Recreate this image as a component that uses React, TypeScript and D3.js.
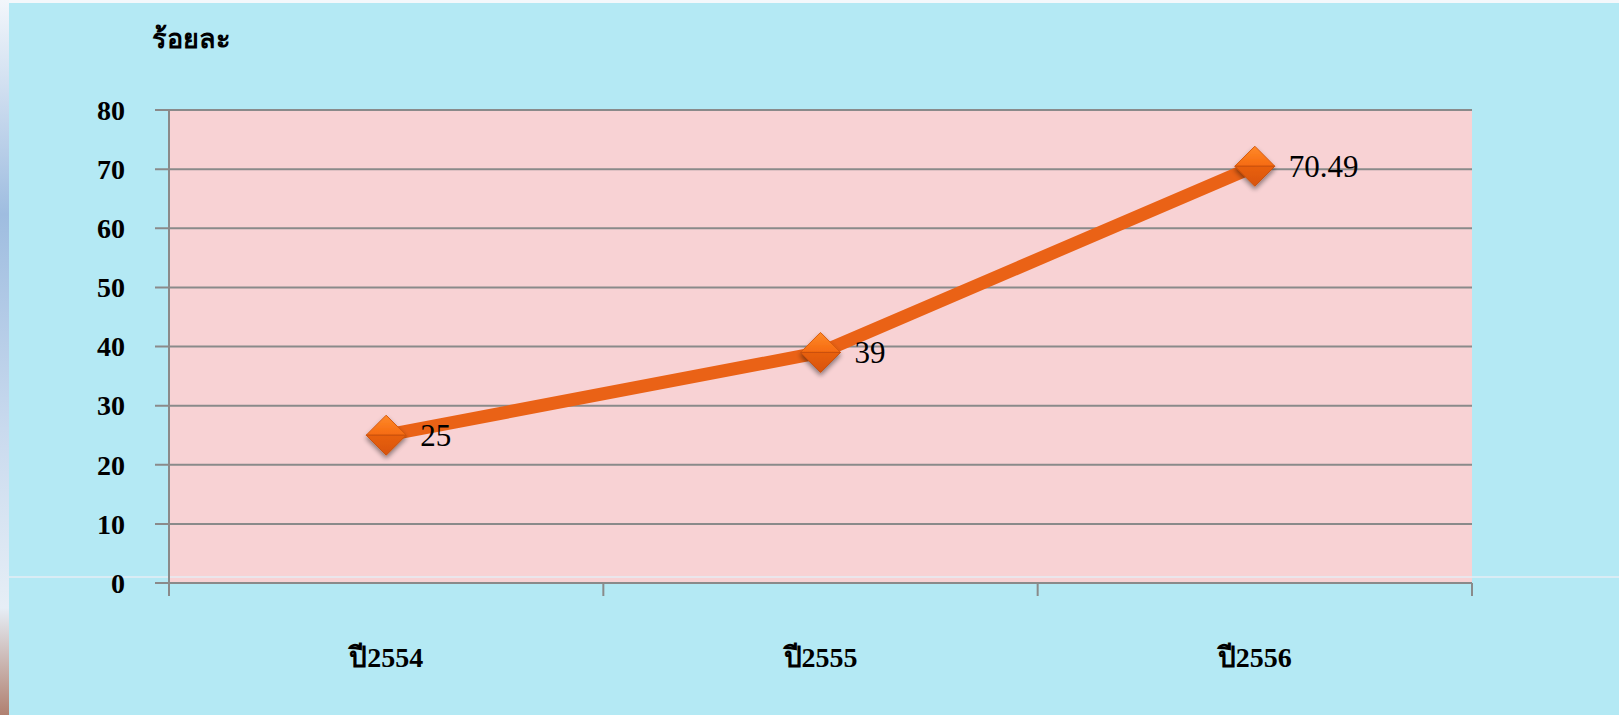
import React from "react";
import * as d3 from "d3";

const categories = ["ปี2554", "ปี2555", "ปี2556"];
const values = [25, 39, 70.49];
const valueLabels = ["25", "39", "70.49"];
const yTicks = [0, 10, 20, 30, 40, 50, 60, 70, 80];
const yTitle = "ร้อยละ";

const W = 1619;
const H = 715;
const plot = { left: 169, right: 1472, top: 110, bottom: 583 };

export default function App() {
  const x = d3
    .scaleBand<string>()
    .domain(categories)
    .range([plot.left, plot.right])
    .paddingInner(0)
    .paddingOuter(0);
  const y = d3.scaleLinear().domain([0, 80]).range([plot.bottom, plot.top]);
  const cx = (c: string) => (x(c) ?? 0) + x.bandwidth() / 2;
  const line = d3
    .line<number>()
    .x((_, i) => cx(categories[i]))
    .y((d) => y(d));
  const boundaries = [...categories.map((c) => x(c) ?? 0), plot.right];
  const font = "'Liberation Serif', 'Times New Roman', serif";
  const r = 20;

  return (
    <svg
      width={W}
      height={H}
      style={{ position: "absolute", left: 0, top: 0, display: "block" }}
      fontFamily={font}
    >
      <defs>
        <linearGradient id="leftStrip" x1="0" y1="0" x2="0" y2="1">
          <stop offset="0" stopColor="#f2f6fb" />
          <stop offset="0.3" stopColor="#9fbde0" />
          <stop offset="0.6" stopColor="#c9daee" />
          <stop offset="0.85" stopColor="#e6eef6" />
          <stop offset="1" stopColor="#b08070" />
        </linearGradient>
        <linearGradient id="diamondTop" x1="0" y1="0" x2="0" y2="1">
          <stop offset="0" stopColor="#ff8a2a" />
          <stop offset="1" stopColor="#f56a10" />
        </linearGradient>
        <linearGradient id="diamondBot" x1="0" y1="0" x2="0" y2="1">
          <stop offset="0" stopColor="#e8600c" />
          <stop offset="1" stopColor="#d9540a" />
        </linearGradient>
        <filter id="shadow" x="-50%" y="-50%" width="200%" height="200%">
          <feGaussianBlur in="SourceAlpha" stdDeviation="2.5" />
          <feOffset dx="0" dy="3" result="b" />
          <feComponentTransfer>
            <feFuncA type="linear" slope="0.45" />
          </feComponentTransfer>
          <feMerge>
            <feMergeNode />
            <feMergeNode in="SourceGraphic" />
          </feMerge>
        </filter>
      </defs>

      <rect x={0} y={0} width={W} height={H} fill="#f4f8fb" />
      <rect x={0} y={0} width={9} height={H} fill="url(#leftStrip)" />
      <rect x={9} y={3} width={W - 9} height={H - 3} fill="#b4e9f4" />

      {/* plot area */}
      <rect
        x={plot.left}
        y={plot.top}
        width={plot.right - plot.left}
        height={plot.bottom - plot.top}
        fill="#f8d2d4"
      />

      {/* thin light line across picture */}
      <line x1={9} x2={W} y1={577} y2={577} stroke="#e6edf4" strokeWidth={1.5} />

      {/* gridlines & y ticks */}
      {yTicks.map((t) => (
        <g key={t}>
          <line
            x1={155}
            x2={plot.right}
            y1={y(t)}
            y2={y(t)}
            stroke="#8a8a8a"
            strokeWidth={2}
          />
          <text
            x={125}
            y={y(t)}
            dy="0.35em"
            textAnchor="end"
            fontSize={28}
            fontWeight="bold"
            fill="#000"
          >
            {t}
          </text>
        </g>
      ))}

      {/* y axis line */}
      <line
        x1={plot.left}
        x2={plot.left}
        y1={plot.top}
        y2={plot.bottom + 13}
        stroke="#8a8a8a"
        strokeWidth={2}
      />

      {/* x ticks */}
      {boundaries.map((b, i) => (
        <line
          key={i}
          x1={b}
          x2={b}
          y1={plot.bottom}
          y2={plot.bottom + 13}
          stroke="#8a8a8a"
          strokeWidth={2}
        />
      ))}

      {/* x labels */}
      {categories.map((c) => (
        <text
          key={c}
          x={cx(c)}
          y={667}
          textAnchor="middle"
          fontSize={28}
          fontWeight="bold"
          fill="#000"
        >
          {c}
        </text>
      ))}

      {/* y title */}
      <text x={152} y={48} fontSize={27} fontWeight="bold" fill="#000">
        {yTitle}
      </text>

      {/* line */}
      <path
        d={line(values) ?? ""}
        fill="none"
        stroke="#ea6216"
        strokeWidth={13}
        strokeLinejoin="round"
      />

      {/* markers */}
      {values.map((v, i) => {
        const px = cx(categories[i]);
        const py = y(v);
        return (
          <g key={i} transform={`translate(${px},${py})`} filter="url(#shadow)">
            <path
              d={`M${-r},0 L0,${-r} L${r},0 Z`}
              fill="url(#diamondTop)"
              stroke="#d65a10"
              strokeWidth={1}
              strokeLinejoin="round"
            />
            <path
              d={`M${-r},0 L${r},0 L0,${r} Z`}
              fill="url(#diamondBot)"
              stroke="#c95008"
              strokeWidth={1}
              strokeLinejoin="round"
            />
          </g>
        );
      })}

      {/* data labels */}
      {values.map((v, i) => (
        <text
          key={i}
          x={cx(categories[i]) + 34}
          y={y(v) + 11}
          fontSize={31}
          fill="#000"
        >
          {valueLabels[i]}
        </text>
      ))}
    </svg>
  );
}
